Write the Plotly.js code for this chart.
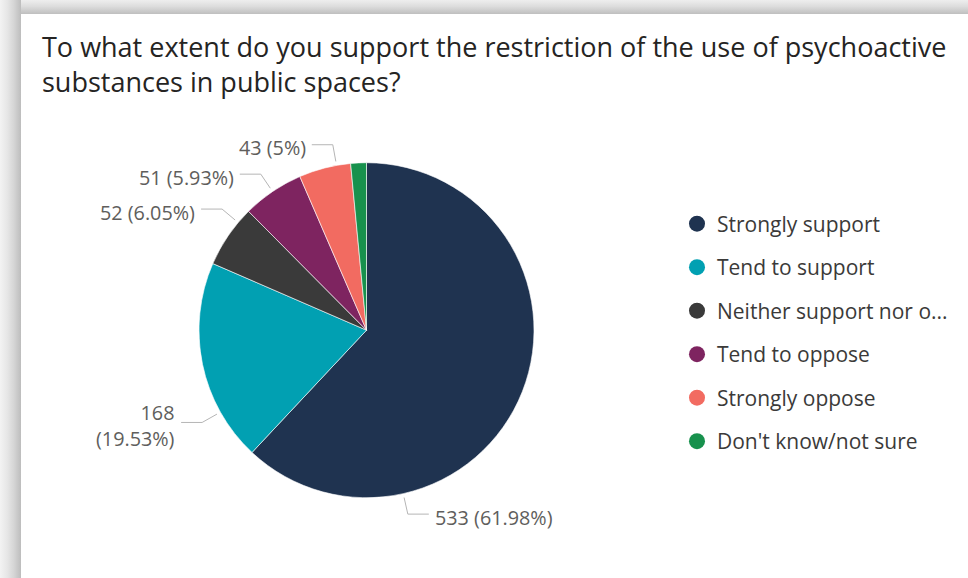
<!DOCTYPE html>
<html>
<head>
<meta charset="utf-8">
<script src="https://cdn.plot.ly/plotly-3.0.1.min.js"></script>
<style>
  html, body { margin: 0; padding: 0; background: #ffffff; }
  #wrap { position: relative; width: 968px; height: 578px; overflow: hidden; background: #ffffff; }
  #shadowTop { position: absolute; left: 0; top: 0; width: 968px; height: 14px;
    background: linear-gradient(to bottom, #eeeeee 0%, #dddddd 45%, #bfbfbf 100%); }
  #shadowLeft { position: absolute; left: 0; top: 0; width: 21px; height: 578px;
    background: linear-gradient(to right, #f3f3f3 0%, #e6e6e6 35%, #d6d6d6 65%, #bdbdbd 100%); }
  #chart { position: absolute; left: 0; top: 0; width: 968px; height: 578px; }
</style>
</head>
<body>
<div id="wrap">
  <div id="shadowTop"></div>
  <div id="shadowLeft"></div>
  <div id="chart"></div>
</div>
<script>
// ---- data ----
const categories = ["Strongly support", "Tend to support", "Neither support nor oppose", "Tend to oppose", "Strongly oppose", "Don't know/not sure"];
const counts = [533, 168, 52, 51, 43, 13];
const legendNames = ["Strongly support", "Tend to support", "Neither support nor o...", "Tend to oppose", "Strongly oppose", "Don't know/not sure"];
const titleText = "To what extent do you support the restriction of the use of psychoactive<br>substances in public spaces?";

// ---- style / layout config ----
const colors = ["#1F3350", "#01A0B2", "#3A3A3A", "#7E2460", "#F26B61", "#17914D"];
const W = 968, H = 578;
const pieBox = { left: 199, right: 534, top: 162.7, bottom: 497.7 };   // pixel box of the pie
const labelAnchorFrac = [0.75, 0.25, 0.76, 0.5, 0.73, null];        // where along each slice the leader line starts
const labelWrap = [false, true, false, false, false, false];
const lineGap = 4, radialLen = 17, horizLen = 21, textGap = 4, textDy = 3;

const total = counts.reduce((a, b) => a + b, 0);
const pct = counts.map(c => parseFloat((c / total * 100).toFixed(2)) + "%");

const cx = (pieBox.left + pieBox.right) / 2;
const cy = (pieBox.top + pieBox.bottom) / 2;
const R = (pieBox.right - pieBox.left) / 2;
const fx = px => px / W;
const fy = py => 1 - py / H;

const shapes = [];
const annotations = [];
let cum = 0;
counts.forEach((c, i) => {
  const start = cum / total * 360;
  cum += c;
  const end = cum / total * 360;
  if (labelAnchorFrac[i] === null) return;
  const th = (start + (end - start) * labelAnchorFrac[i]) * Math.PI / 180;
  const ux = Math.sin(th), uy = -Math.cos(th);
  const x0 = cx + (R + lineGap) * ux, y0 = cy + (R + lineGap) * uy;
  const x1 = x0 + radialLen * ux, y1 = y0 + radialLen * uy;
  const right = x1 > cx;
  const x2 = x1 + (right ? horizLen : -horizLen);
  shapes.push({
    type: "path", xref: "paper", yref: "paper",
    path: `M ${fx(x0)},${fy(y0)} L ${fx(x1)},${fy(y1)} L ${fx(x2)},${fy(y1)}`,
    line: { color: "#B5B5B5", width: 1 }
  });
  const txt = counts[i] + (labelWrap[i] ? "<br>" : " ") + "(" + pct[i] + ")";
  annotations.push({
    xref: "paper", yref: "paper",
    x: fx(x2 + (right ? textGap : -textGap)), y: fy(y1 + textDy),
    xanchor: right ? "left" : "right", yanchor: "middle",
    align: right ? "left" : "right",
    text: txt, showarrow: false,
    font: { family: "Open Sans, Noto Sans, sans-serif", size: 19.8, color: "#605E5C" }
  });
});

const traces = [{
  type: "pie",
  labels: categories,
  values: counts,
  sort: false,
  direction: "clockwise",
  rotation: 0,
  marker: { colors: colors, line: { color: "#ffffff", width: 0.6 } },
  textinfo: "none",
  hoverinfo: "label+value+percent",
  showlegend: false,
  domain: { x: [fx(pieBox.left), fx(pieBox.right)], y: [fy(pieBox.bottom), fy(pieBox.top)] }
}];
legendNames.forEach((n, i) => {
  traces.push({
    type: "scatter", mode: "markers", x: [null], y: [null],
    name: n, legendgroup: "g" + i, showlegend: true,
    marker: { color: colors[i], size: 16, symbol: "circle" },
    hoverinfo: "skip"
  });
});

const layout = {
  width: W, height: H,
  margin: { l: 0, r: 0, t: 0, b: 0 },
  paper_bgcolor: "rgba(0,0,0,0)",
  plot_bgcolor: "rgba(0,0,0,0)",
  title: {
    text: titleText,
    x: fx(42), xanchor: "left", xref: "paper",
    y: fy(57), yanchor: "top", yref: "paper",
    font: { family: "Open Sans, sans-serif", size: 27, color: "#252423" }
  },
  xaxis: { visible: false, domain: [0.99, 1] },
  yaxis: { visible: false, domain: [0.99, 1] },
  showlegend: true,
  legend: {
    x: fx(677), xanchor: "left", y: fy(203.5), yanchor: "top",
    font: { family: "Open Sans, Noto Sans, sans-serif", size: 21, color: "#3B3A39" },
    tracegroupgap: 13.2, bgcolor: "rgba(0,0,0,0)", itemclick: false, itemdoubleclick: false
  },
  shapes: shapes,
  annotations: annotations
};

Plotly.newPlot("chart", traces, layout, { displayModeBar: false, staticPlot: false });
</script>
</body>
</html>
